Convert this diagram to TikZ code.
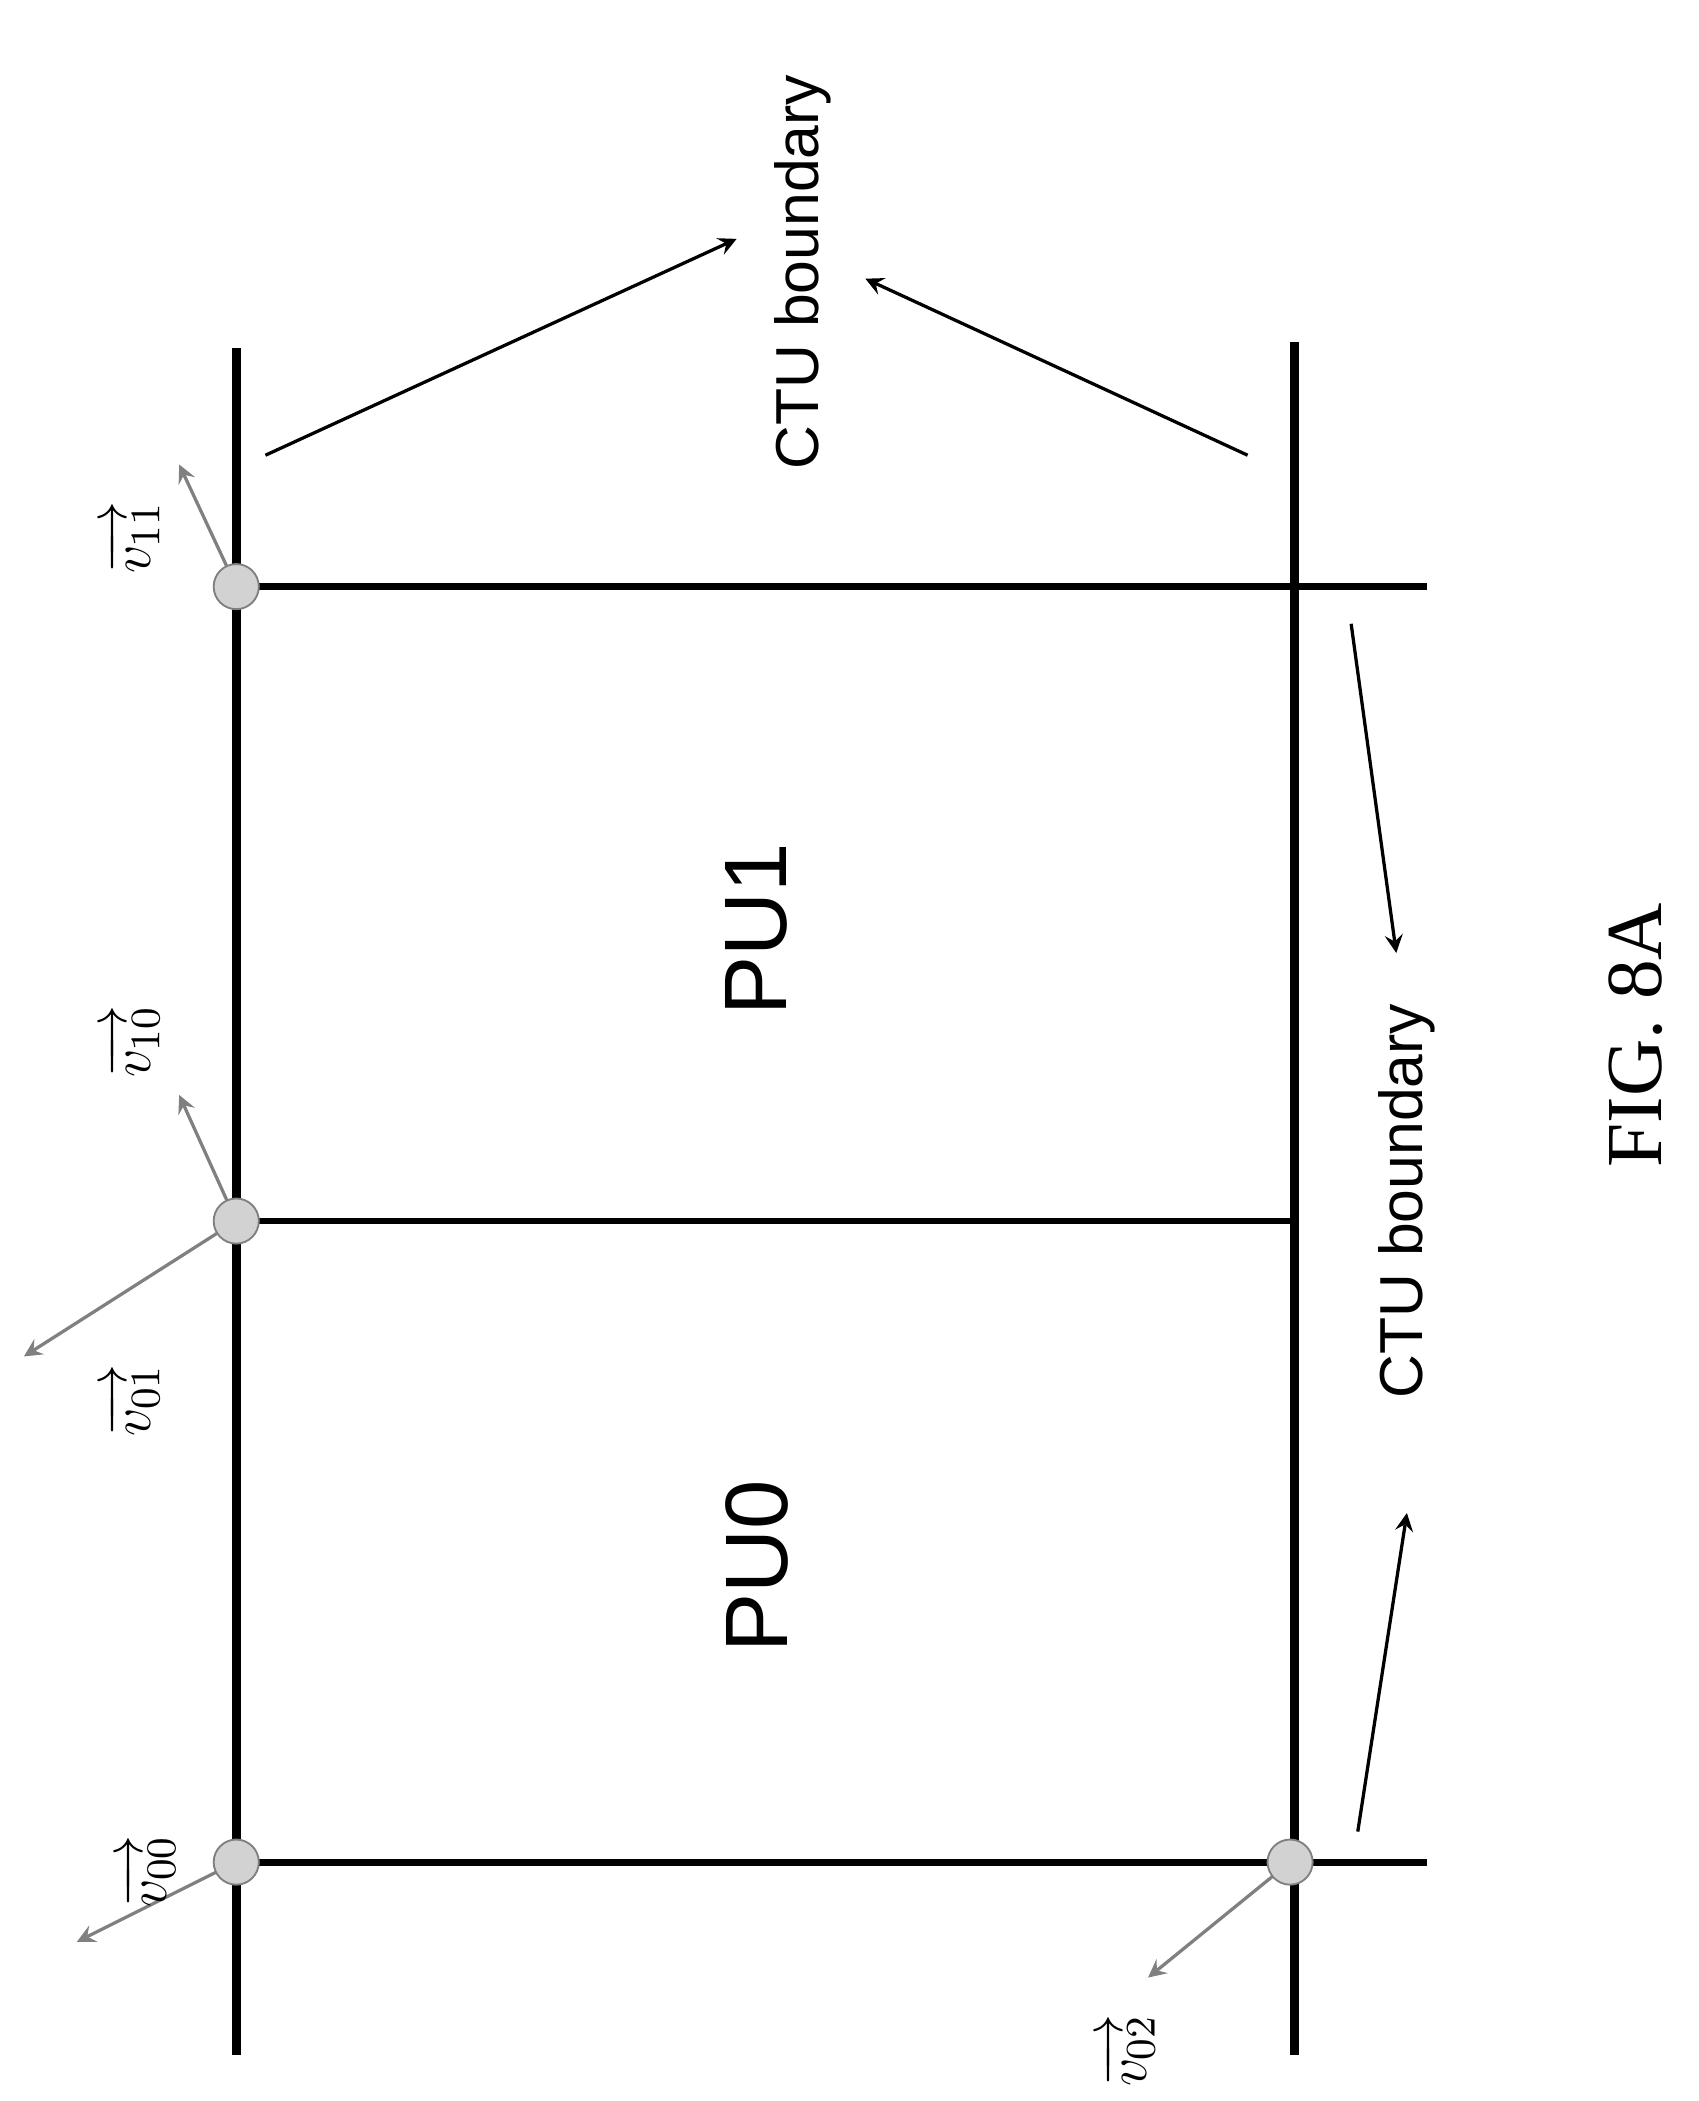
\documentclass[tikz,border=0pt]{standalone}
\usepackage{fontspec}
\setsansfont{Liberation Sans}
\setmainfont{Liberation Serif}
\usepackage{amsmath}
\begin{document}
\begin{tikzpicture}[x=0.01cm,y=-0.01cm,
    ctu/.style={line width=1.9pt},
    pu/.style={line width=1.5pt},
    mv/.style={draw=gray, -stealth, line width=0.7pt},
    lead/.style={-stealth, line width=0.7pt},
    corner/.style={circle, draw=gray, fill=gray!35, minimum size=0.34cm, inner sep=0},
    lbl/.style={rotate=90, font=\sffamily\fontsize{13}{15}\selectfont},
    vec/.style={rotate=90, font=\fontsize{13}{15}\selectfont}]
\useasboundingbox (0,0) rectangle (1280,1583);
% CTU boundaries
\draw[ctu] (178,262) -- (178,1548);
\draw[ctu] (975,258) -- (975,1548);
% PU edges
\draw[pu] (178,442) -- (1075,442);
\draw[line width=1.1pt] (178,920) -- (975,920);
\draw[pu] (178,1403) -- (1075,1403);
% motion vectors
\coordinate (p11) at (178,442);
\coordinate (p10) at (178,920);
\coordinate (p00) at (178,1403);
\coordinate (p02) at (972,1403);
\draw[mv] (p11) -- (135,350);
\draw[mv] (p10) -- (135,825);
\draw[mv] (p10) -- (18,1022);
\draw[mv] (p00) -- (58,1463);
\draw[mv] (p02) -- (865,1490);
% control points
\node[corner] (c11) at (p11) {};
\node[corner] (c10) at (p10) {};
\node[corner] (c00) at (p00) {};
\node[corner] (c02) at (p02) {};
\node[vec] (v11) at (100,405) {$\overrightarrow{v_{11}}$};
\node[vec] (v10) at (100,785) {$\overrightarrow{v_{10}}$};
\node[vec] (v01) at (100,1055) {$\overrightarrow{v_{01}}$};
\node[vec] (v00) at (112,1410) {$\overrightarrow{v_{00}}$};
\node[vec] (v02) at (850,1545) {$\overrightarrow{v_{02}}$};
% labels
\node[lbl] (ctuA) at (605,205) {CTU boundary};
\node[lbl] (ctuB) at (1060,905) {CTU boundary};
\draw[lead] (200,343) -- (555,180);
\draw[lead] (940,343) -- (652,210);
\draw[lead] (1018,470) -- (1052,718);
\draw[lead] (1023,1380) -- (1060,1140);
\node[rotate=90, font=\sffamily\fontsize{19}{22}\selectfont] (pu1) at (570,700) {PU1};
\node[rotate=90, font=\sffamily\fontsize{19}{22}\selectfont] (pu0) at (570,1180) {PU0};
\node[rotate=90, font=\fontsize{17}{20}\selectfont] (fig) at (1232,780) {FIG. 8A};
\end{tikzpicture}
\end{document}
